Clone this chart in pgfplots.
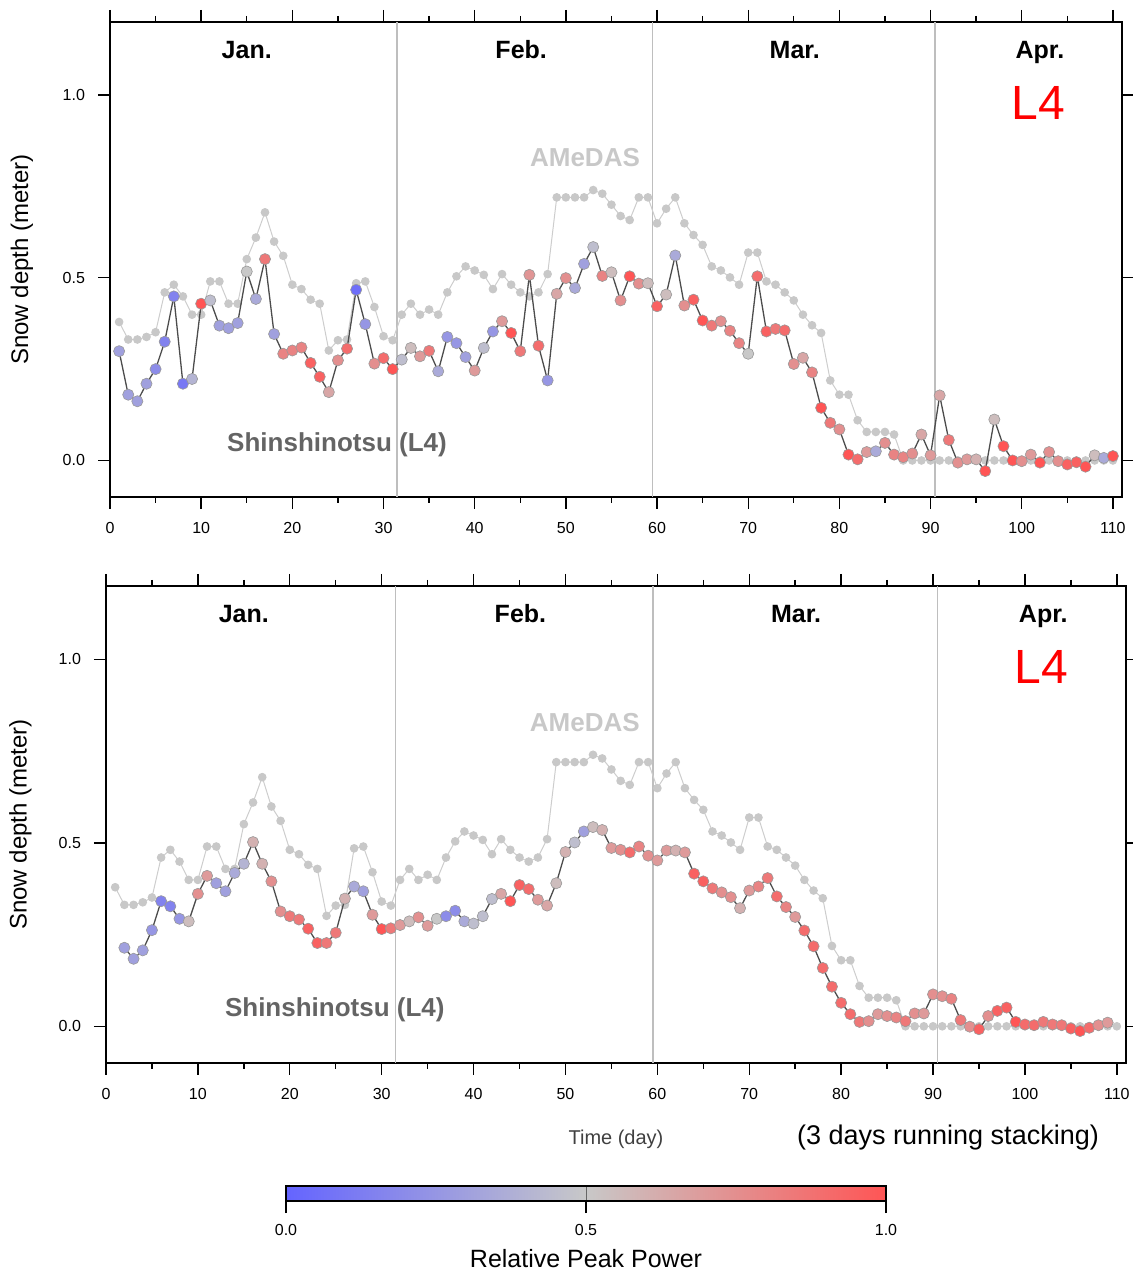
\documentclass[border=0pt]{standalone}
\usepackage{fontspec}
\setmainfont{Liberation Sans}
\usepackage{pgfplots}
\usepackage{pgfplotstable}
\pgfplotsset{compat=1.18}

\definecolor{amgray}{RGB}{200,200,200}
\definecolor{amline}{RGB}{205,205,205}
\definecolor{shgray}{RGB}{100,100,100}
\definecolor{monthline}{RGB}{190,190,190}

\pgfplotsset{
  colormap={bwr}{rgb255=(100,100,255) rgb255=(200,200,200) rgb255=(255,85,85)},
  snowax/.style={
    scale only axis, anchor=south west,
    xmin=0, xmax=111, ymin=-0.1, ymax=1.2,
    xtick={0,10,...,110}, minor x tick num=1,
    ytick={0,0.5,1},
    yticklabel style={/pgf/number format/fixed, /pgf/number format/fixed zerofill,
      /pgf/number format/precision=1, xshift=-3pt},
    tick align=outside, tick pos=both,
    major tick length=6pt, minor tick length=3pt,
    axis line style={line width=1.3pt},
    every tick/.style={black, line width=0.7pt},
    ticklabel style={font=\fontsize{8}{9.6}\selectfont},
    xticklabel style={yshift=-3pt},
    /pgf/number format/assume math mode=true,
    point meta min=0, point meta max=1,
    clip mode=individual,
    ylabel={Snow depth (meter)},
    ylabel style={font=\fontsize{12}{14}\selectfont, anchor=center},
  },
  amedas/.style={color=amline, line width=0.5pt, mark=*, mark size=1.9pt,
    mark options={fill=amgray, draw=amgray}},
  shin/.style={scatter, point meta=explicit, color=black!70, line width=0.65pt,
    mark=*, mark size=2.8pt, mark options={line width=0.3pt},
    scatter/use mapped color={draw=black!40, fill=mapped color}},
}

% AMeDAS snow depth (m)
\pgfplotstableread{
d y
1 0.379
2 0.331
3 0.331
4 0.338
5 0.351
6 0.460
7 0.481
8 0.449
9 0.399
10 0.399
11 0.490
12 0.490
13 0.429
14 0.429
15 0.551
16 0.610
17 0.679
18 0.599
19 0.560
20 0.481
21 0.469
22 0.440
23 0.429
24 0.301
25 0.329
26 0.331
27 0.485
28 0.490
29 0.420
30 0.340
31 0.329
32 0.399
33 0.429
34 0.399
35 0.413
36 0.399
37 0.460
38 0.504
39 0.531
40 0.520
41 0.508
42 0.469
43 0.510
44 0.481
45 0.460
46 0.449
47 0.460
48 0.510
49 0.720
50 0.720
51 0.720
52 0.720
53 0.740
54 0.730
55 0.700
56 0.669
57 0.658
58 0.720
59 0.720
60 0.649
61 0.689
62 0.720
63 0.649
64 0.617
65 0.590
66 0.531
67 0.520
68 0.501
69 0.481
70 0.569
71 0.569
72 0.490
73 0.481
74 0.460
75 0.438
76 0.399
77 0.370
78 0.349
79 0.219
80 0.180
81 0.180
82 0.110
83 0.078
84 0.078
85 0.078
86 0.071
87 0.0
88 0.0
89 0.0
90 0.0
91 0.0
92 0.0
93 0.0
94 0.0
95 0.0
96 0.0
97 0.0
98 0.0
99 0.0
100 0.0
101 0.0
102 0.0
103 0.0
104 0.0
105 0.0
106 0.0
107 0.0
108 0.0
109 0.0
110 0.0
}\amedas

% Shinshinotsu (L4), daily: day, depth, relative peak power
\pgfplotstableread{
d y c
1 0.299 0.30
2 0.180 0.30
3 0.162 0.30
4 0.210 0.30
5 0.250 0.20
6 0.325 0.15
7 0.449 0.15
8 0.210 0.10
9 0.223 0.40
10 0.429 1.00
11 0.438 0.45
12 0.369 0.30
13 0.362 0.30
14 0.376 0.30
15 0.517 0.50
16 0.442 0.35
17 0.551 0.85
18 0.346 0.30
19 0.292 0.80
20 0.301 0.80
21 0.309 0.80
22 0.267 0.95
23 0.229 0.95
24 0.187 0.65
25 0.274 0.75
26 0.306 0.90
27 0.467 0.05
28 0.373 0.25
29 0.265 0.75
30 0.280 0.90
31 0.250 1.00
32 0.276 0.45
33 0.308 0.55
34 0.285 0.70
35 0.300 0.85
36 0.244 0.35
37 0.338 0.25
38 0.321 0.25
39 0.283 0.30
40 0.246 0.70
41 0.308 0.45
42 0.353 0.25
43 0.381 0.70
44 0.349 1.00
45 0.299 0.85
46 0.508 0.72
47 0.314 0.90
48 0.219 0.25
49 0.456 0.65
50 0.499 0.75
51 0.472 0.35
52 0.538 0.30
53 0.584 0.45
54 0.505 0.80
55 0.515 0.55
56 0.438 0.75
57 0.504 1.00
58 0.484 0.75
59 0.485 0.55
60 0.422 0.95
61 0.454 0.55
62 0.561 0.35
63 0.424 0.75
64 0.440 0.95
65 0.383 1.00
66 0.369 0.85
67 0.381 0.75
68 0.355 0.80
69 0.321 0.80
70 0.292 0.50
71 0.504 0.90
72 0.353 0.95
73 0.360 0.85
74 0.356 0.90
75 0.264 0.75
76 0.281 0.65
77 0.241 0.80
78 0.144 1.00
79 0.103 0.85
80 0.085 0.75
81 0.016 1.00
82 0.003 0.90
83 0.023 0.70
84 0.025 0.35
85 0.048 0.75
86 0.016 0.80
87 0.009 0.80
88 0.019 0.75
89 0.071 0.65
90 0.014 0.70
91 0.178 0.65
92 0.056 0.85
93 -0.006 0.75
94 0.003 0.70
95 0.003 0.60
96 -0.029 1.00
97 0.112 0.55
98 0.039 1.00
99 0.000 1.00
100 -0.002 0.75
101 0.016 0.70
102 -0.006 1.00
103 0.023 0.75
104 -0.002 0.75
105 -0.011 0.95
106 -0.005 0.95
107 -0.017 1.00
108 0.014 0.55
109 0.007 0.35
110 0.012 1.00
}\topL

% Shinshinotsu (L4), 3 days running stacking
\pgfplotstableread{
d y c
2 0.214 0.30
3 0.184 0.30
4 0.207 0.30
5 0.262 0.25
6 0.341 0.15
7 0.327 0.15
8 0.293 0.25
9 0.286 0.55
10 0.361 0.75
11 0.410 0.70
12 0.390 0.30
13 0.368 0.30
14 0.418 0.35
15 0.443 0.40
16 0.502 0.60
17 0.443 0.60
18 0.395 0.75
19 0.313 0.75
20 0.300 0.85
21 0.291 0.85
22 0.266 0.95
23 0.227 0.95
24 0.227 0.85
25 0.255 0.85
26 0.348 0.60
27 0.381 0.35
28 0.368 0.30
29 0.304 0.70
30 0.265 1.00
31 0.267 0.85
32 0.276 0.70
33 0.286 0.55
34 0.297 0.75
35 0.274 0.70
36 0.293 0.50
37 0.300 0.20
38 0.315 0.20
39 0.286 0.35
40 0.280 0.45
41 0.300 0.45
42 0.347 0.45
43 0.361 0.65
44 0.341 1.00
45 0.385 0.95
46 0.374 0.90
47 0.345 0.70
48 0.329 0.65
49 0.390 0.55
50 0.475 0.60
51 0.501 0.45
52 0.531 0.30
53 0.543 0.55
54 0.535 0.60
55 0.486 0.70
56 0.481 0.75
57 0.474 0.90
58 0.490 0.80
59 0.465 0.75
60 0.452 0.70
61 0.479 0.70
62 0.479 0.60
63 0.474 0.70
64 0.416 0.95
65 0.395 0.95
66 0.376 0.85
67 0.365 0.75
68 0.352 0.75
69 0.322 0.60
70 0.370 0.70
71 0.381 0.80
72 0.404 0.85
73 0.354 0.90
74 0.325 0.80
75 0.298 0.70
76 0.261 0.90
77 0.218 0.90
78 0.159 0.90
79 0.108 0.90
80 0.064 0.90
81 0.033 0.90
82 0.012 0.85
83 0.014 0.75
84 0.033 0.70
85 0.028 0.75
86 0.024 0.80
87 0.014 0.85
88 0.035 0.75
89 0.035 0.70
90 0.087 0.75
91 0.082 0.75
92 0.075 0.80
93 0.017 0.85
94 -0.001 0.75
95 -0.008 0.95
96 0.028 0.75
97 0.042 0.95
98 0.051 0.95
99 0.012 1.00
100 0.005 0.90
101 0.003 0.90
102 0.012 0.85
103 0.005 0.85
104 0.003 0.85
105 -0.006 0.95
106 -0.013 1.00
107 -0.004 0.90
108 0.003 0.75
109 0.010 0.70
}\botL

\newcommand{\monthdecor}{%
  \draw[monthline, line width=0.8pt] (axis cs:31.5,-0.1) -- (axis cs:31.5,1.2);
  \draw[monthline, line width=0.8pt] (axis cs:59.5,-0.1) -- (axis cs:59.5,1.2);
  \draw[monthline, line width=0.8pt] (axis cs:90.5,-0.1) -- (axis cs:90.5,1.2);
  \node[anchor=base, font=\fontsize{12.5}{14}\selectfont\bfseries] at (axis cs:15,1.101) {Jan.};
  \node[anchor=base, font=\fontsize{12.5}{14}\selectfont\bfseries] at (axis cs:45.1,1.101) {Feb.};
  \node[anchor=base, font=\fontsize{12.5}{14}\selectfont\bfseries] at (axis cs:75.1,1.101) {Mar.};
  \node[anchor=base, font=\fontsize{12.5}{14}\selectfont\bfseries] at (axis cs:102,1.101) {Apr.};
  \node[font=\fontsize{24}{26}\selectfont, text=red] at (axis cs:101.8,0.978) {L4};
  \node[font=\fontsize{13}{15}\selectfont\bfseries, text=amgray] at (axis cs:52.1,0.828) {AMeDAS};
  \node[font=\fontsize{13}{15}\selectfont\bfseries, text=shgray] at (axis cs:24.9,0.044) {Shinshinotsu (L4)};
}

\begin{document}
\begin{tikzpicture}
\path[use as bounding box] (0,0) rectangle (566pt,637.5pt);

\begin{axis}[snowax, at={(55pt,389pt)}, width=506pt, height=237.5pt,
  ylabel style={at={(axis description cs:-0.087,0.5)}}]
\monthdecor
\addplot[amedas] table[x=d, y=y] {\amedas};
\addplot[shin] table[x=d, y=y, meta=c] {\topL};
\end{axis}

\begin{axis}[snowax, at={(53pt,106pt)}, width=510pt, height=238.5pt,
  ylabel style={at={(axis description cs:-0.084,0.5)}},
  colorbar horizontal,
  colorbar style={
    at={(parent axis.south west)}, anchor=north west,
    xshift=90pt, yshift=-53pt,
    scale only axis, width=300pt, height=7.5pt,
    xtick={0,0.5,1}, ytick=\empty,
    xtick pos=left, xticklabel pos=left,
    tick align=outside, major tick length=6pt,
    every tick/.style={black, line width=0.7pt},
    axis line style={line width=1.2pt},
    xmajorgrids, major grid style={black!60, line width=0.5pt},
    xticklabel style={font=\fontsize{8}{9.6}\selectfont, yshift=-2pt,
      /pgf/number format/fixed, /pgf/number format/fixed zerofill,
      /pgf/number format/precision=1},
    /pgf/number format/assume math mode=true,
    xlabel={Relative Peak Power},
    xlabel style={font=\fontsize{12.5}{14}\selectfont, yshift=0pt},
  }]
\monthdecor
\addplot[amedas] table[x=d, y=y] {\amedas};
\addplot[shin] table[x=d, y=y, meta=c] {\botL};
\end{axis}

\node[font=\fontsize{10}{12}\selectfont, text=black!75] at (308pt,68pt) {Time (day)};
\node[font=\fontsize{13.5}{15}\selectfont] at (474pt,68.5pt) {(3 days running stacking)};
\end{tikzpicture}
\end{document}
